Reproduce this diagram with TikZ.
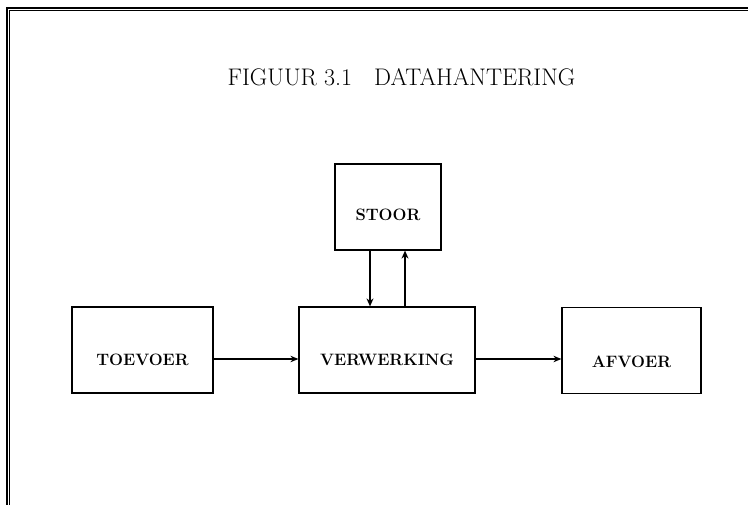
\documentclass[tikz,border=0pt]{standalone}
\usepackage{fontspec}
\usetikzlibrary{arrows.meta}
\begin{document}
\begin{tikzpicture}[x=1pt,y=-1pt,
  blok/.style={draw,line width=1.2pt,inner sep=0pt},
  tekst/.style={inner sep=0pt,font=\fontsize{16.5}{19}\selectfont\bfseries},
  pijl/.style={line width=1.9pt,-{Stealth[length=8pt,width=6.5pt]}},
  dpijl/.style={line width=2.8pt,-{Stealth[length=8pt,width=7pt]}}]
\useasboundingbox (0,0) rectangle (748,505);
% frame (cut off on the right and bottom)
\draw[line width=1.2pt] (7,505) -- (7,8) -- (748,8);
\draw[line width=0.6pt] (9.5,505) -- (9.5,10.5) -- (748,10.5);
% title
\node[inner sep=0pt,font=\fontsize{24}{28}\selectfont] (titel) at (401.5,77.5) {FIGUUR 3.1\hspace{22pt}DATAHANTERING};
% blocks
\node[blok,minimum width=141pt,minimum height=86pt] (toevoer) at (142.5,350) {};
\node[blok,minimum width=176pt,minimum height=86pt] (verwerking) at (387,350) {};
\node[blok,minimum width=139pt,minimum height=86pt] (afvoer) at (631.5,350.5) {};
\node[blok,minimum width=106pt,minimum height=86pt] (stoor) at (388,207) {};
% block labels, set a little below the centre of each block
\node[tekst] (toevoer-t) at ([yshift=-10pt]toevoer.center) {TOEVOER};
\node[tekst] (verwerking-t) at ([yshift=-10pt]verwerking.center) {VERWERKING};
\node[tekst] (afvoer-t) at ([yshift=-11pt]afvoer.center) {AFVOER};
\node[tekst] (stoor-t) at ([yshift=-8pt]stoor.center) {STOOR};
% connectors
\draw[pijl] (toevoer.east |- 0,359) -- (verwerking.west |- 0,359);
\draw[pijl] (verwerking.east |- 0,359) -- (afvoer.west |- 0,359);
\draw[dpijl] (stoor.south -| 370,0) -- (verwerking.north -| 370,0);
\draw[dpijl] (verwerking.north -| 405,0) -- (stoor.south -| 405,0);
\end{tikzpicture}
\end{document}
